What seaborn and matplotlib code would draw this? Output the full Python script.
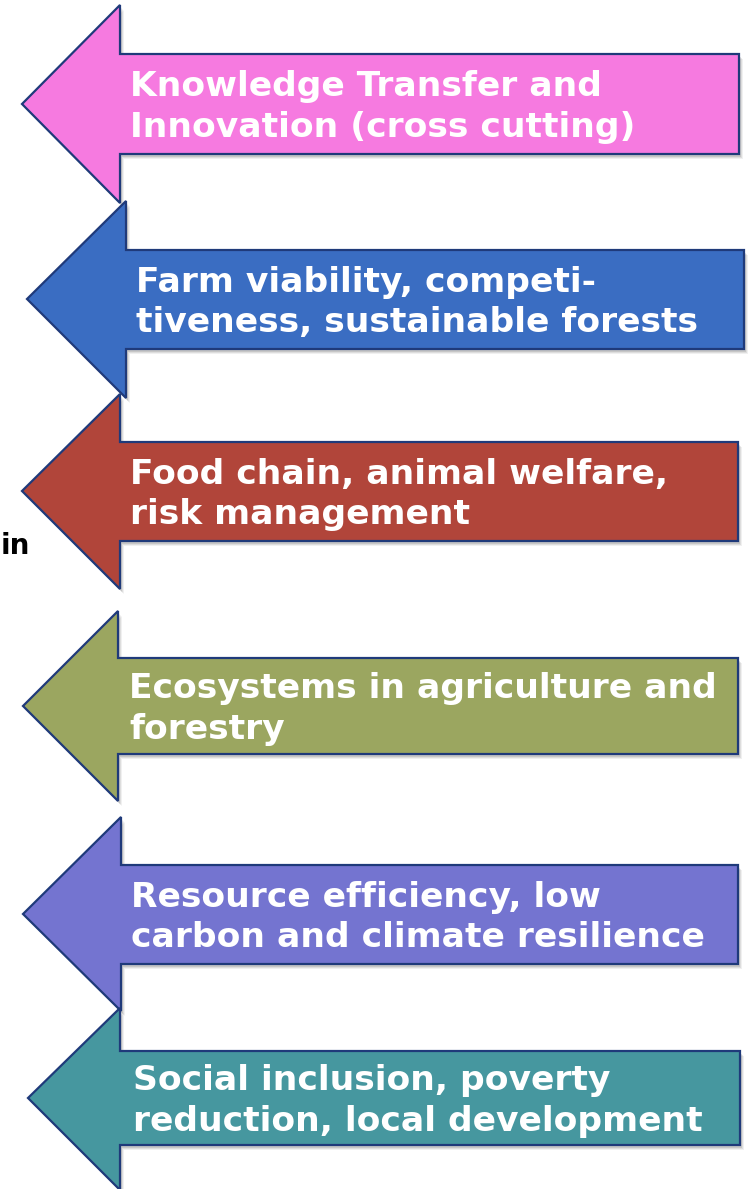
import matplotlib
matplotlib.use("Agg")
import matplotlib.pyplot as plt
from matplotlib.patches import Polygon
import seaborn as sns

sns.set_theme(style="white")
plt.rcParams['font.family'] = ['DejaVu Sans']

labels = [
    "Knowledge Transfer and\nInnovation (cross cutting)",
    "Farm viability, competi-\ntiveness, sustainable forests",
    "Food chain, animal welfare,\nrisk management",
    "Ecosystems in agriculture and\nforestry",
    "Resource efficiency, low\ncarbon and climate resilience",
    "Social inclusion, poverty\nreduction, local development",
]
colors = ["#F67AE0", "#3A6DC2", "#B1453A", "#9BA660", "#7474D0", "#46979F"]
tip_x = [22, 27, 22, 23, 23, 28]
tip_y = [104, 299, 491, 706, 914, 1098]
head_x = [120, 126, 120, 118, 121, 120]
head_top = [5, 201, 394, 611, 817, 1008]
head_bot = [203, 398, 589, 801, 1011, 1190]
shaft_top = [54, 250, 442, 658, 865, 1051]
shaft_bot = [154, 349, 541, 754, 964, 1145]
right_x = [739, 744, 738, 738, 738, 740]
text_x = [130, 136, 130, 129, 131, 133]
side_text = "in"

fig = plt.figure(figsize=(7.5, 11.89), dpi=100)
ax = fig.add_axes([0, 0, 1, 1])
ax.set_xlim(0, 750)
ax.set_ylim(1189, 0)
ax.axis("off")

for i in range(len(labels)):
    pts = [(tip_x[i], tip_y[i]), (head_x[i], head_top[i]), (head_x[i], shaft_top[i]),
           (right_x[i], shaft_top[i]), (right_x[i], shaft_bot[i]), (head_x[i], shaft_bot[i]),
           (head_x[i], head_bot[i])]
    for k, a in [(5, 0.06), (4, 0.08), (3, 0.10)]:
        shadow = Polygon([(x + k - 1, y + k) for x, y in pts], closed=True,
                         facecolor="#000000", alpha=a, edgecolor="none", zorder=2 * i + 1)
        ax.add_patch(shadow)
    poly = Polygon(pts, closed=True, facecolor=colors[i], edgecolor="#1F3A7A",
                   linewidth=1.6, joinstyle="miter", zorder=2 * i + 2)
    ax.add_patch(poly)
    ax.text(text_x[i], (shaft_top[i] + shaft_bot[i]) / 2 + 3, labels[i], color="white",
            fontsize=24.8, fontweight="bold", ha="left", va="center",
            linespacing=1.3, zorder=2 * i + 2.5)

ax.text(1, 546, side_text, color="black", fontsize=20, fontweight="bold",
        ha="left", va="center", zorder=0)

fig.savefig("out.png", dpi=100)
